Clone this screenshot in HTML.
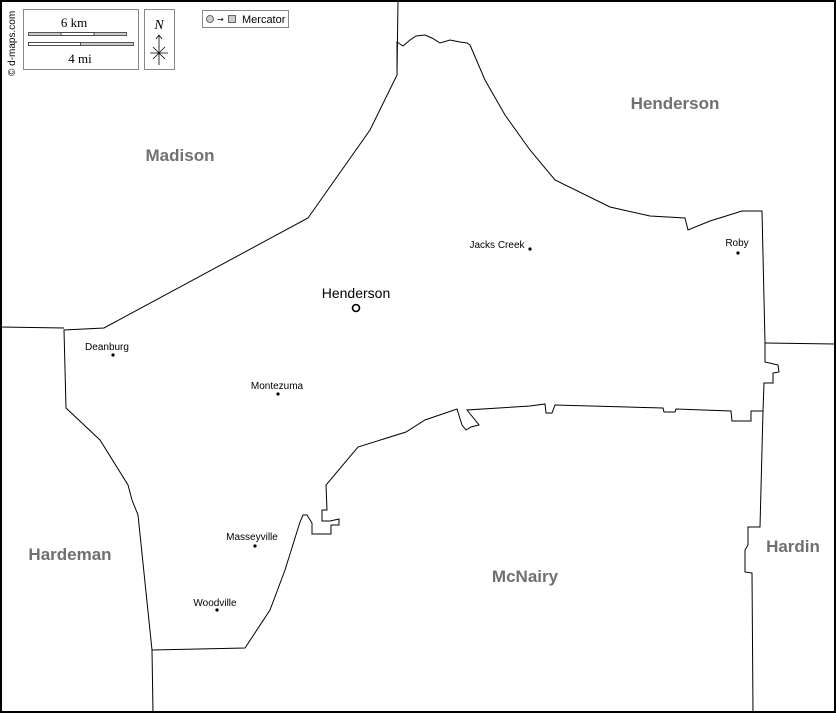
<!DOCTYPE html>
<html><head><meta charset="utf-8"><style>
html,body{margin:0;padding:0;background:#fff}
svg{display:block}
.c{font-family:"Liberation Sans",sans-serif;font-weight:bold;fill:#707070;font-size:17px;text-anchor:middle}
.t{font-family:"Liberation Sans",sans-serif;font-size:10px;fill:#000;text-anchor:middle}
</style></head><body>
<svg width="836" height="713" viewBox="0 0 836 713" xmlns="http://www.w3.org/2000/svg">
<rect x="1" y="1" width="834" height="711" fill="#fff" stroke="#000" stroke-width="2"/>
<g fill="none" stroke="#000" stroke-width="1">
<polyline points="398,0 397,75"/>
<polyline points="0,327 64,328"/>
<polyline points="765,343 835,344"/>
<polyline points="152,650 153,713"/>
<polyline points="763,411 760,527 748,527 748,545 745,550 745,572 752,573 753,713"/>
<polygon points="397,75 397,42 403,46 410,40 416,36 425,35 432,38 440,43 450,40 460,42 467,43 470,45 485,80 505,115 530,150 555,180 610,207 650,216 685,218 688,230 710,221 742,211 762,211 765,343 765,362 778,365 779,372 773,373 773,383 764,383 763,411 751,411 751,421 732,421 731,411 676,409 675,412 664,412 663,408 555,405 552,413 546,413 545,404 530,406 467,410 479,425 471,427 466,430 462,425 457,409 425,420 406,432 358,447 326,485 327,510 322,510 322,521 330,521 339,519 339,525 331,525 331,534 312,534 312,523 307,515 303,515 300,522 285,570 270,610 245,648 152,650 138,515 132,500 128,485 100,440 66,408 64,330 104,328 308,218 370,130"/>
</g>
<text class="c" x="180" y="161">Madison</text>
<text class="c" x="675" y="109">Henderson</text>
<text class="c" x="70" y="560">Hardeman</text>
<text class="c" x="525" y="582">McNairy</text>
<text class="c" x="793" y="552">Hardin</text>
<text x="356" y="298" font-family="Liberation Sans,sans-serif" font-size="14" text-anchor="middle">Henderson</text>
<circle cx="356" cy="308" r="3.5" fill="none" stroke="#000" stroke-width="1.6"/>
<text class="t" x="497" y="248">Jacks Creek</text><circle cx="530" cy="249" r="1.6"/>
<text class="t" x="737" y="246">Roby</text><circle cx="738" cy="253" r="1.6"/>
<text class="t" x="107" y="350">Deanburg</text><circle cx="113" cy="355" r="1.6"/>
<text class="t" x="277" y="389">Montezuma</text><circle cx="278" cy="394" r="1.6"/>
<text class="t" x="252" y="540">Masseyville</text><circle cx="255" cy="546" r="1.6"/>
<text class="t" x="215" y="606">Woodville</text><circle cx="217" cy="610" r="1.6"/>
<rect x="23.5" y="9.5" width="115" height="60" fill="#fff" stroke="#888"/>
<text x="74" y="27" font-family="Liberation Serif,serif" font-size="13" text-anchor="middle">6 km</text>
<rect x="28.5" y="32.5" width="98" height="3" fill="#ccc" stroke="#333" stroke-width="0.8"/>
<rect x="61" y="32.5" width="33" height="3" fill="#fff" stroke="#333" stroke-width="0.8"/>
<rect x="28.5" y="42.5" width="105" height="3" fill="#ccc" stroke="#333" stroke-width="0.8"/>
<rect x="28.5" y="42.5" width="52" height="3" fill="#fff" stroke="#333" stroke-width="0.8"/>
<text x="80" y="63" font-family="Liberation Serif,serif" font-size="13" text-anchor="middle">4 mi</text>
<rect x="144.5" y="9.5" width="30" height="60" fill="#fff" stroke="#888"/>
<text x="159" y="29" font-family="Liberation Serif,serif" font-style="italic" font-size="14" text-anchor="middle">N</text>
<g stroke="#000" stroke-width="0.8" fill="none"><line x1="159" y1="35" x2="159" y2="65"/><line x1="156" y1="39" x2="159" y2="35"/><line x1="162" y1="39" x2="159" y2="35"/><line x1="150" y1="53" x2="168" y2="53"/><line x1="153" y1="47" x2="165" y2="59"/><line x1="165" y1="47" x2="153" y2="59"/></g>
<rect x="202.5" y="10.5" width="86" height="17" fill="#fff" stroke="#888"/>
<circle cx="210" cy="19" r="3.5" fill="#ccc" stroke="#444" stroke-width="0.8"/>
<text x="217" y="22" font-family="DejaVu Sans,sans-serif" font-size="8">→</text>
<rect x="228.5" y="15.5" width="7" height="7" fill="#ccc" stroke="#444" stroke-width="0.8"/>
<text x="242" y="23" font-family="Liberation Sans,sans-serif" font-size="11">Mercator</text>
<text transform="translate(15,76) rotate(-90)" font-family="Liberation Sans,sans-serif" font-size="10">© d-maps.com</text>
</svg>
</body></html>
